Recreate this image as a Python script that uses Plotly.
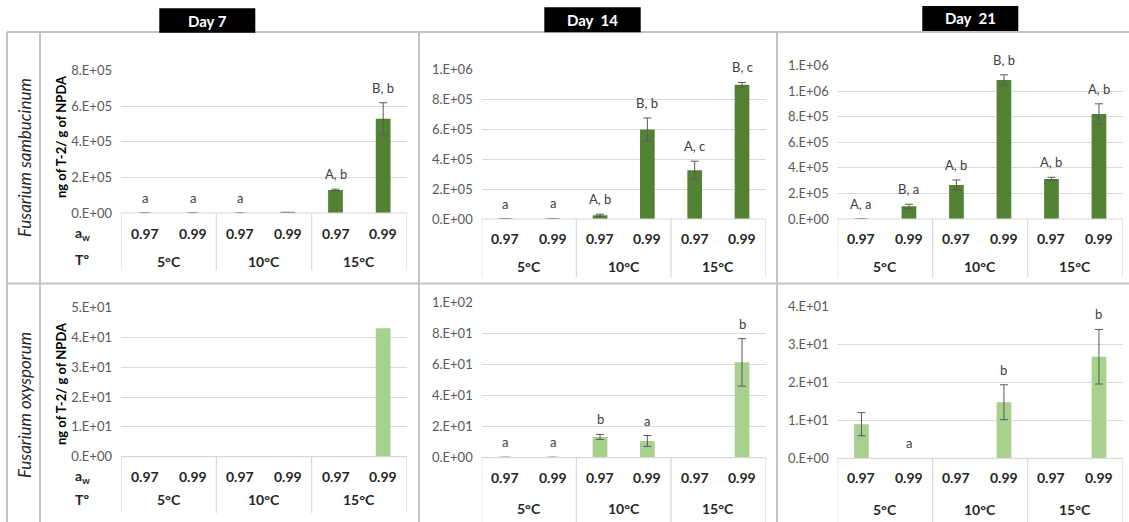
import plotly.graph_objects as go

# ---------------- data ----------------
temps = ["5°C", "10°C", "15°C"]
aw_levels = ["0.97", "0.99"]
days = ["Day 7", "Day\u00a0 14", "Day\u00a0 21"]
species = ["Fusarium sambucinum", "Fusarium oxysporum"]

samb_d7 = [1500, 1500, 1500, 2000, 130000, 530000]
samb_d7_err = [500, 500, 500, 500, 4000, 90000]
samb_d7_lab = ["a", "a", "a", "", "A, b", "B, b"]

samb_d14 = [2000, 2500, 25000, 598000, 326000, 897000]
samb_d14_err = [1000, 1000, 7000, 77000, 60000, 15000]
samb_d14_lab = ["a", "a", "A, b", "B, b", "A, c", "B, c"]

samb_d21 = [1500, 99000, 266000, 1086000, 313000, 820000]
samb_d21_err = [500, 16000, 39000, 40000, 13000, 80000]
samb_d21_lab = ["A, a", "B, a", "A, b", "B, b", "A, b", "A, b"]

oxy_d7 = [0, 0, 0, 0, 0, 43.1]
oxy_d7_err = [None, None, None, None, None, None]
oxy_d7_lab = ["", "", "", "", "", ""]

oxy_d14 = [0.2, 0.2, 13.4, 10.8, 0, 61.5]
oxy_d14_err = [0.1, 0.1, 1.6, 3.5, None, 15.3]
oxy_d14_lab = ["a", "a", "b", "a", "", "b"]

oxy_d21 = [9.0, 0, 0, 14.8, 0, 26.8]
oxy_d21_err = [3.05, None, None, 4.6, None, 7.2]
oxy_d21_lab = ["", "a", "", "b", "", "b"]

y_max = [8e5, 1e6, 1.2e6, 50, 100, 40]
y_step = [2e5, 2e5, 2e5, 10, 20, 10]

series = [
    (samb_d7, samb_d7_err, samb_d7_lab),
    (samb_d14, samb_d14_err, samb_d14_lab),
    (samb_d21, samb_d21_err, samb_d21_lab),
    (oxy_d7, oxy_d7_err, oxy_d7_lab),
    (oxy_d14, oxy_d14_err, oxy_d14_lab),
    (oxy_d21, oxy_d21_err, oxy_d21_lab),
]

# ---------------- layout geometry (pixels) ----------------
W, H = 1129, 522
def px(x): return x / W
def py(y): return 1 - y / H

panels = [
    dict(x0=121, x1=407, ytop=70.7, ybot=213, boxbot=270, awy=233, ty=261),
    dict(x0=481.7, x1=765.7, ytop=69.3, ybot=219, boxbot=277, awy=238.7, ty=266.7),
    dict(x0=837.7, x1=1122.7, ytop=65.4, ybot=219, boxbot=277, awy=238.7, ty=266.7),
    dict(x0=121, x1=407, ytop=307.7, ybot=456.7, boxbot=513, awy=476.7, ty=499),
    dict(x0=481.7, x1=765.7, ytop=302.7, ybot=457.7, boxbot=522, awy=477.7, ty=508.7),
    dict(x0=837.7, x1=1122.7, ytop=306.7, ybot=458.3, boxbot=522, awy=477.7, ty=509),
]
colors = ["#548235"] * 3 + ["#A9D18E"] * 3

FONT = "Lato"
cats = [f"{t} {a}" for t in temps for a in aw_levels]

fig = go.Figure()
shapes = []
annotations = []
layout = {}

GRID = "#D9D9D9"
TABLE = "#C4C4C4"

def ann(**kw):
    d = dict(showarrow=False, xanchor="center", yanchor="middle")
    d.update(kw)
    annotations.append(d)

for i, (p, (vals, errs, labs)) in enumerate(zip(panels, series)):
    k = "" if i == 0 else str(i + 1)
    xr, yr = "x" + k, "y" + k
    fig.add_trace(go.Bar(
        x=cats, y=vals,
        marker=dict(color=colors[i], line=dict(width=0)),
        xaxis=xr, yaxis=yr, showlegend=False, hoverinfo="x+y",
    ))
    idx = [j for j, e in enumerate(errs) if e is not None]
    if idx:
        fig.add_trace(go.Scatter(
            x=[cats[j] for j in idx], y=[vals[j] for j in idx], mode="markers",
            marker=dict(size=0.1, color="rgba(0,0,0,0)"),
            error_y=dict(type="data", array=[errs[j] for j in idx], visible=True,
                         color="#595959", thickness=1, width=4),
            xaxis=xr, yaxis=yr, showlegend=False, hoverinfo="skip",
        ))
    nt = int(round(y_max[i] / y_step[i]))
    tv = [j * y_step[i] for j in range(nt + 1)]
    tt = [f"{v:#.0E}" for v in tv]
    layout["xaxis" + k] = dict(
        domain=[px(p["x0"]), px(p["x1"])], anchor=yr,
        type="category", categoryorder="array", categoryarray=cats,
        range=[-0.5, 5.5],
        showticklabels=False, showgrid=False, zeroline=False, showline=False,
        fixedrange=True, automargin=False,
    )
    layout["yaxis" + k] = dict(
        domain=[py(p["ybot"]), py(p["ytop"])], anchor=xr,
        range=[0, y_max[i]], tickvals=tv, ticktext=tt,
        showgrid=True, gridcolor=GRID, gridwidth=1, zeroline=False,
        showline=False, ticks="", ticklabelstandoff=8,
        tickfont=dict(family=FONT, size=13, color="#595959"),
        fixedrange=True, automargin=False,
    )
    # category box lines
    shapes.append(dict(type="line", xref="paper", yref="paper",
                       x0=px(p["x0"]), x1=px(p["x1"]), y0=py(p["ybot"]), y1=py(p["ybot"]),
                       line=dict(color=GRID, width=1.2)))
    for b in [-0.5, 1.5, 3.5, 5.5]:
        shapes.append(dict(type="line", xref=xr, yref="paper",
                           x0=b, x1=b, y0=py(p["ybot"]), y1=py(p["boxbot"]),
                           line=dict(color=GRID, width=1.2)))
    for j, c in enumerate(cats):
        ann(xref=xr, yref="paper", x=j, y=py(p["awy"]),
            text=f"<b>{aw_levels[j % 2]}</b>",
            font=dict(family=FONT, size=14, color="#262626"))
        if labs[j]:
            top = vals[j] + (errs[j] if errs[j] is not None else 0)
            ann(xref=xr, yref=yr, x=j, y=top, yshift=15, text=labs[j],
                font=dict(family=FONT, size=13, color="#404040"))
    for g, t in enumerate(temps):
        ann(xref=xr, yref="paper", x=2 * g + 0.5, y=py(p["ty"]),
            text=f"<b>{t}</b>",
            font=dict(family=FONT, size=14, color="#262626"))

# row labels and y titles (left column)
for r, (yc, awy, ty, sp_y) in enumerate([(137, 233, 259, 158), (384, 476.7, 499, 405)]):
    ann(xref="paper", yref="paper", x=px(61), y=py(yc),
        text="<b>ng of T-2/ g of NPDA</b>", textangle=-90,
        font=dict(family=FONT, size=13, color="#000000"))
    ann(xref="paper", yref="paper", x=px(82), y=py(awy),
        text="<b>a<sub>w</sub></b>",
        font=dict(family=FONT, size=14, color="#262626"))
    ann(xref="paper", yref="paper", x=px(82), y=py(ty),
        text="<b>Tº</b>",
        font=dict(family=FONT, size=14, color="#262626"))
    ann(xref="paper", yref="paper", x=px(24), y=py(sp_y),
        text=f"<i>{species[r]}</i>", textangle=-90,
        font=dict(family=FONT, size=17, color="#262626"))

# table lines
tl = dict(color=TABLE, width=2)
shapes += [
    dict(type="line", xref="paper", yref="paper", x0=px(7), x1=1, y0=py(32), y1=py(32), line=tl),
    dict(type="line", xref="paper", yref="paper", x0=px(7), x1=1, y0=py(283.5), y1=py(283.5), line=tl),
    dict(type="line", xref="paper", yref="paper", x0=px(7), x1=px(7), y0=py(32), y1=0, line=tl),
    dict(type="line", xref="paper", yref="paper", x0=px(40), x1=px(40), y0=py(32), y1=0, line=tl),
    dict(type="line", xref="paper", yref="paper", x0=px(419), x1=px(419), y0=py(32), y1=0, line=tl),
    dict(type="line", xref="paper", yref="paper", x0=px(777), x1=px(777), y0=py(32), y1=0, line=tl),
]

# day header boxes
hdr = [(159.3, 255.3, 8.3, 32.7), (544.3, 640.7, 7.3, 32.3), (922.3, 1018.3, 6, 31)]
for d, (a, b, t, btm) in zip(days, hdr):
    shapes.append(dict(type="rect", xref="paper", yref="paper",
                       x0=px(a), x1=px(b), y0=py(btm), y1=py(t),
                       fillcolor="#000000", line=dict(width=0)))
    ann(xref="paper", yref="paper", x=px((a + b) / 2), y=py((t + btm) / 2),
        text=f"<b>{d}</b>",
        font=dict(family=FONT, size=15, color="#FFFFFF"))

fig.update_layout(
    width=W, height=H, margin=dict(l=0, r=0, t=0, b=0, autoexpand=False),
    paper_bgcolor="#FFFFFF", plot_bgcolor="#FFFFFF",
    bargap=0.69, shapes=shapes, annotations=annotations,
    font=dict(family=FONT), **layout,
)
fig.write_html("out.html", config={"displayModeBar": False},
               post_script="document.body.style.margin='0';document.body.style.overflow='hidden';")
